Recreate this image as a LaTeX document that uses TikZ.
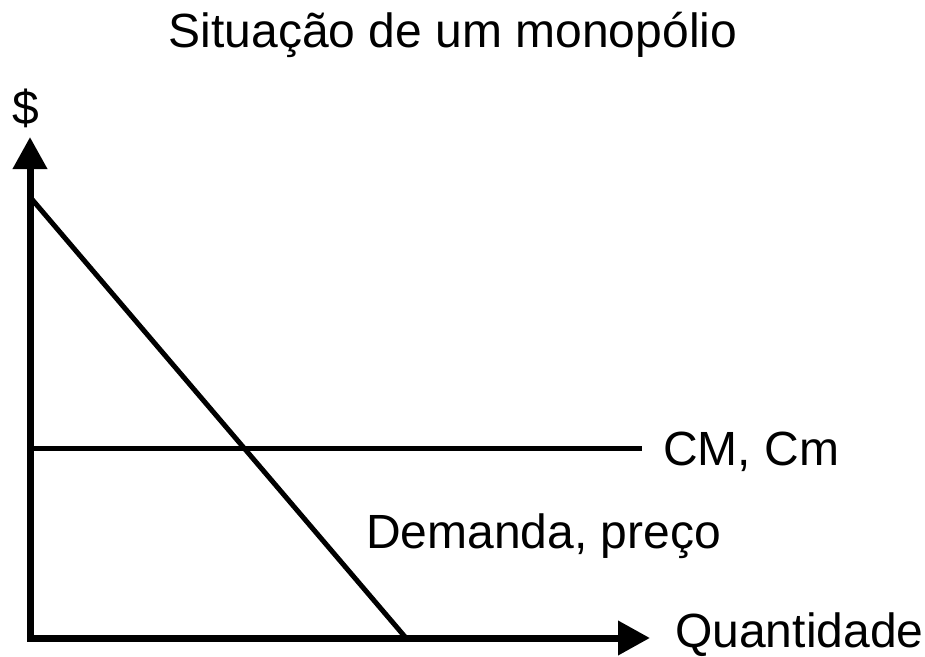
\documentclass[tikz,border=0pt]{standalone}
\usepackage{fontspec}
\setmainfont{Liberation Sans}
\usetikzlibrary{arrows.meta, positioning, calc}

\begin{document}
\begin{tikzpicture}[
  x=0.75pt, y=-0.75pt,
  label_text/.style = {font=\fontsize{36}{42}\selectfont, inner sep=0pt},
  axis/.style = {line width=5.25pt, line join=miter,
    {Triangle[length=24pt, width=24.75pt]}-{Triangle[length=24pt, width=24.75pt]}},
  curve/.style = {line width=3.75pt}
]
\useasboundingbox (0,0) rectangle (925,657);

%--------------------------------------------------
% Axes
%--------------------------------------------------
\coordinate (origin) at (30,638);
\coordinate (y_top) at (30,137);
\coordinate (x_end) at (650,638);

\draw[axis] (y_top) -- (origin) -- (x_end);

%--------------------------------------------------
% Curves
%--------------------------------------------------
\coordinate (d_start) at (30,197);
\coordinate (d_end) at (406,638);
\coordinate (c_start) at (30,448);
\coordinate (c_end) at (642,448);

\draw[curve] (d_start) -- (d_end);
\draw[curve] (c_start) -- (c_end);

%--------------------------------------------------
% Labels
%--------------------------------------------------
\node[label_text, anchor=base] (title) at (453,47) {Situação de um monopólio};
\node[label_text, anchor=base] (dollar) at (26,124) {\$};
\node[label_text, anchor=base west] (l_cost) at (663,465) {CM, Cm};
\node[label_text, anchor=base west] (l_demand) at (366,548) {Demanda, preço};
\node[label_text, anchor=base west] (l_qty) at (675,647) {Quantidade};

\end{tikzpicture}
\end{document}
